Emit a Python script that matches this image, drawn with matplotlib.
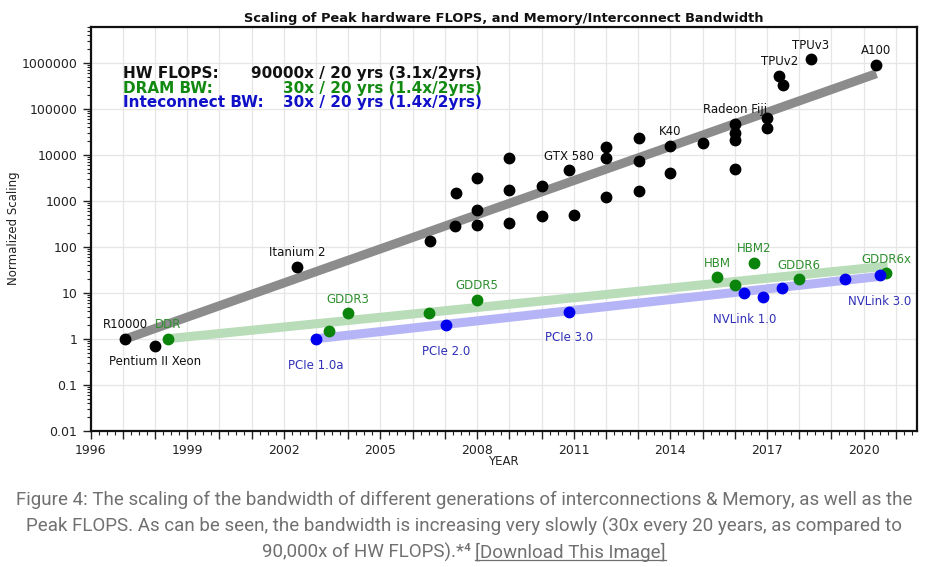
import numpy as np
import matplotlib
matplotlib.use("Agg")
import matplotlib.pyplot as plt
from matplotlib.lines import Line2D
from matplotlib.ticker import FuncFormatter, LogLocator, MultipleLocator, NullFormatter

# HW FLOPS (black points), normalized to R10000 = 1
flops_years = [1997.07, 1998.0, 2002.4, 2006.54, 2007.3, 2007.33, 2008.0, 2008.0, 2008.0,
               2009.0, 2009.0, 2009.0, 2010.0, 2010.0, 2010.86, 2011.0, 2012.0, 2012.0,
               2012.0, 2013.02, 2013.02, 2013.02, 2014.0, 2014.0, 2015.0, 2016.02, 2016.02,
               2016.02, 2016.02, 2017.0, 2017.0, 2017.38, 2017.49, 2018.37, 2020.38]
flops_values = [1.0, 0.68, 37, 132, 280, 1490, 300, 620, 3100,
                325, 1700, 8700, 470, 2050, 4560, 500, 1180, 8700,
                14700, 1670, 7300, 23400, 4050, 15800, 17900, 5000, 21200,
                29500, 47000, 39000, 62700, 528000, 331000, 1.18e6, 9.1e5]
flops_names = ["R10000", "Pentium II Xeon", "Itanium 2", "", "", "", "", "", "",
               "", "", "", "", "", "GTX 580", "", "", "",
               "", "", "", "", "", "K40", "", "", "",
               "", "Radeon Fiji", "", "", "TPUv2", "", "TPUv3", "A100"]

# DRAM bandwidth (green points)
dram_years = [1998.4, 2003.4, 2004.0, 2006.52, 2008.0, 2015.46, 2016.01, 2016.6, 2018.0, 2020.7]
dram_values = [1.0, 1.44, 3.55, 3.55, 7.05, 21.8, 14.4, 45, 19.8, 26.7]
dram_names = ["DDR", "", "GDDR3", "", "GDDR5", "HBM", "", "HBM2", "GDDR6", "GDDR6x"]

# Interconnect bandwidth (blue points)
link_years = [2003.0, 2007.03, 2010.86, 2016.3, 2016.87, 2017.47, 2019.43, 2020.5]
link_values = [1.0, 1.95, 3.9, 10.0, 7.9, 12.4, 19.8, 24.6]
link_names = ["PCIe 1.0a", "PCIe 2.0", "PCIe 3.0", "NVLink 1.0", "", "", "", "NVLink 3.0"]

# trend bands (start / end)
flops_trend_years = [1997.1, 2020.4]
flops_trend_values = [1.0, 5.8e5]
dram_trend_years = [1998.4, 2020.75]
dram_trend_values = [1.0, 38]
link_trend_years = [2003.0, 2020.6]
link_trend_values = [1.0, 23]

summary_labels = ["HW FLOPS:", "DRAM BW:", "Inteconnect BW:"]
summary_values = ["90000x / 20 yrs (3.1x/2yrs)", "30x / 20 yrs (1.4x/2yrs)",
                  "30x / 20 yrs (1.4x/2yrs)"]

caption_lines = [
    "Figure 4: The scaling of the bandwidth of different generations of interconnections & Memory, as well as the",
    "Peak FLOPS. As can be seen, the bandwidth is increasing very slowly (30x every 20 years, as compared to",
]
caption_tail = "90,000x of HW FLOPS).*\u2074 "
caption_link = "[Download This Image]"

below_names = {"Pentium II Xeon", "PCIe 1.0a", "PCIe 2.0", "PCIe 3.0", "NVLink 1.0", "NVLink 3.0"}

fig = plt.figure(figsize=(9.28, 5.67), dpi=100)
ax = fig.add_axes([0.0977, 0.2404, 0.8901, 0.712])

ax.plot(flops_trend_years, flops_trend_values, color="#8c8c8c", lw=6.5,
        solid_capstyle="butt", zorder=2)
ax.plot(dram_trend_years, dram_trend_values, color="#b9dcb9", lw=6.5,
        solid_capstyle="butt", zorder=2)
ax.plot(link_trend_years, link_trend_values, color="#b4b4f6", lw=6.5,
        solid_capstyle="butt", zorder=2)

series = [
    (flops_years, flops_values, flops_names, "black", "#111111"),
    (dram_years, dram_values, dram_names, "#0b840b", "#2f8f2f"),
    (link_years, link_values, link_names, "#0000ee", "#3030b8"),
]
for years, values, names, color, text_color in series:
    ax.plot(years, values, "o", color=color, ms=7.5, zorder=3, ls="none")
    for yr, val, name in zip(years, values, names):
        if not name:
            continue
        if name == "Pentium II Xeon":
            dy = -11
        elif name in below_names:
            dy = -19
        else:
            dy = 10
        ax.annotate(name, (yr, val), xytext=(0, dy), textcoords="offset points",
                    ha="center", va="center", fontsize=8.5, color=text_color, zorder=4)

ax.set_yscale("log")
ax.set_ylim(0.01, 6e6)
ax.set_xlim(1996, 2021.65)

ax.xaxis.set_major_locator(MultipleLocator(1))
ax.xaxis.set_minor_locator(MultipleLocator(0.25))
ax.xaxis.set_major_formatter(FuncFormatter(
    lambda v, _: f"{int(round(v))}" if (int(round(v)) - 1996) % 3 == 0 else ""))
ax.yaxis.set_major_locator(LogLocator(base=10, numticks=20))
ax.yaxis.set_minor_locator(LogLocator(base=10, subs=np.arange(2, 10), numticks=20))
ax.yaxis.set_minor_formatter(NullFormatter())
ax.yaxis.set_major_formatter(FuncFormatter(
    lambda v, _: f"{int(round(v))}" if v >= 1 else f"{v:g}"))

ax.tick_params(axis="both", which="major", labelsize=9, length=6, width=1,
               colors="#222222", direction="out")
ax.tick_params(axis="both", which="minor", length=3, width=0.8, colors="#222222",
               direction="out")
ax.grid(True, which="major", color="#e6e6e6", lw=0.9)
ax.set_axisbelow(True)
for spine in ax.spines.values():
    spine.set_linewidth(1.6)
    spine.set_color("#111111")

fig.text(0.5428, 0.9665, "Scaling of Peak hardware FLOPS, and Memory/Interconnect Bandwidth",
         ha="center", va="center", fontsize=9.4, fontweight="bold", color="#111111")
fig.text(0.542, 0.1857, "YEAR", ha="center", va="center", fontsize=8.5, color="#222222")
fig.text(0.0143, 0.598, "Normalized Scaling", ha="center", va="center", rotation=90,
         fontsize=8.5, color="#222222")

summary_colors = ["#111111", "#128a12", "#1010c8"]
summary_y = [0.885, 0.847, 0.812]
for label, value, color, y in zip(summary_labels, summary_values, summary_colors, summary_y):
    ax.text(0.0395, y, label, transform=ax.transAxes, ha="left", va="center",
            fontsize=11, fontweight="bold", color=color)
    ax.text(0.4734, y, value, transform=ax.transAxes, ha="right", va="center",
            fontsize=11, fontweight="bold", color=color)

# caption: pick a size so the first line spans ~896 px like the original
renderer = fig.canvas.get_renderer()
cap_font = ["Roboto", "DejaVu Sans"]
cap_color = "#707070"
probe = fig.text(0, 0, caption_lines[0], fontsize=12, family=cap_font)
cap_size = 12 * 896 / probe.get_window_extent(renderer).width
probe.remove()

for line, y in zip(caption_lines, [0.1182, 0.0723]):
    fig.text(0.5, y, line, ha="center", va="center", fontsize=cap_size, family=cap_font,
             color=cap_color)

# last caption line: plain part + underlined link, centred together
t1 = fig.text(0, 0.0265, caption_tail, ha="left", va="center", fontsize=cap_size,
              family=cap_font, color=cap_color)
t2 = fig.text(0, 0.0265, caption_link, ha="left", va="center", fontsize=cap_size,
              family=cap_font, color=cap_color)
w1 = t1.get_window_extent(renderer).width
w2 = t2.get_window_extent(renderer).width
fig_w = fig.bbox.width
x0 = (fig_w - (w1 + w2)) / 2
t1.set_x(x0 / fig_w)
t2.set_x((x0 + w1) / fig_w)
bb = t2.get_window_extent(renderer)
y_line = (bb.y0 + 2) / fig.bbox.height
fig.add_artist(Line2D([bb.x0 / fig_w, bb.x1 / fig_w], [y_line, y_line],
                      transform=fig.transFigure, color=cap_color, lw=0.9))

fig.savefig("out.png", dpi=100)
